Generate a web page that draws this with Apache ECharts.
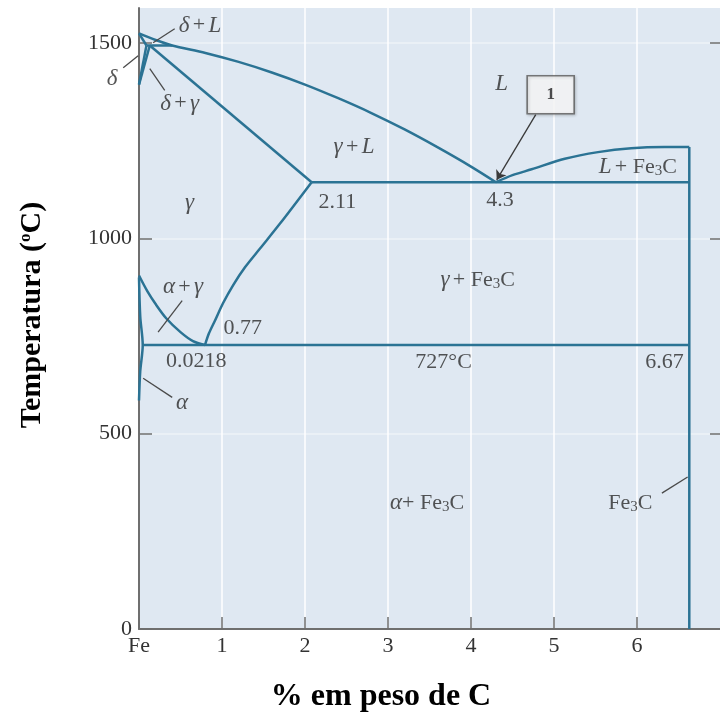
<!DOCTYPE html>
<html>
<head>
<meta charset="utf-8">
<script src="https://cdn.jsdelivr.net/npm/echarts@6/dist/echarts.min.js"></script>
<style>
html,body{margin:0;padding:0;background:#fff;}
#chart{width:720px;height:717px;}
</style>
</head>
<body>
<div id="chart"></div>
<script>
// ---------- data (wt% C, temperature °C) ----------
const xTicks = ['Fe', '1', '2', '3', '4', '5', '6'];
const xTickValues = [0, 1, 2, 3, 4, 5, 6];
const yTicks = [0, 500, 1000, 1500];

const liquidus = [[0,1525],[0.2,1508],[0.4,1494],[0.8,1475],[1.2,1452],[1.6,1425],[2.0,1394],[2.4,1359],[2.8,1321],[3.2,1279],[3.6,1233],[4.0,1184],[4.3,1144]];
const deltaSolidus = [[0,1525],[0.09,1494]];
const peritectic = [[0.09,1494],[0.4,1494]];
const deltaSolvus = [[0.09,1494],[0,1394]];
const gammaDeltaLine = [[0.13,1494],[0,1394]];
const solidus = [[0.13,1494],[2.08,1144]];
const eutectic = [[2.08,1144],[6.63,1144]];
const liquidusFe3C = [[4.3,1144],[4.5,1162],[4.73,1177],[5.13,1204],[5.53,1221],[5.93,1231],[6.33,1234],[6.63,1234]];
const cementite = [[6.63,1234],[6.63,0]];
const acmLine = [[0.795,727],[0.843,757],[0.916,790],[1.012,834],[1.133,880],[1.277,926],[1.458,974],[1.699,1038],[2.08,1144]];
const a3Line = [[0,905],[0.1,865],[0.2,832],[0.33,795],[0.5,760],[0.65,737],[0.795,727]];
const alphaSolvus = [[0,900],[0.015,800],[0.045,727],[0.015,660],[0,585]];
const eutectoid = [[0.045,727],[6.63,727]];

// region / value labels: [x, T, rich text]
const regionLabels = [
  [0.735, 1545, '{i|δ} {n|+} {i|L}'],
  [-0.325, 1409, '{i|δ}'],
  [0.49, 1345, '{i|δ} {n|+} {i|γ}'],
  [4.37, 1396, '{i|L}'],
  [2.59, 1233, '{i|γ} {n|+} {i|L}'],
  [0.61, 1092, '{i|γ}'],
  [2.39, 1092, '{n|2.11}'],
  [4.35, 1097, '{n|4.3}'],
  [6.01, 1182, '{i|L} {n|+ Fe}{s|3}{n|C}'],
  [0.53, 875, '{i|α} {n|+} {i|γ}'],
  [1.25, 770, '{n|0.77}'],
  [0.69, 685, '{n|0.0218}'],
  [3.67, 683, '{n|727°C}'],
  [6.33, 683, '{n|6.67}'],
  [4.08, 893, '{i|γ} {n|+ Fe}{s|3}{n|C}'],
  [0.52, 578, '{i|α}'],
  [3.47, 322, '{i|α}{n|+ Fe}{s|3}{n|C}'],
  [5.92, 322, '{n|Fe}{s|3}{n|C}']
];

const leaderLines = [
  [[0.17,1501],[0.43,1537]],
  [[-0.19,1437],[-0.01,1468]],
  [[0.13,1435],[0.31,1379]],
  [[0.52,841],[0.23,760]],
  [[0.05,642],[0.40,593]],
  [[6.30,348],[6.61,389]]
];

const calloutBox = [4.96, 1368, '1'];
const calloutArrow = [[4.78,1317],[4.31,1150]];

// ---------- chart ----------
const SERIF = '"Liberation Serif","DejaVu Serif",serif';
const LINE_COLOR = '#2b7394';

const boundaries = [liquidus, deltaSolidus, peritectic, deltaSolvus, gammaDeltaLine, solidus,
  eutectic, liquidusFe3C, cementite, acmLine, a3Line, alphaSolvus, eutectoid];

const smoothSet = new Set([liquidus, liquidusFe3C, acmLine, a3Line, alphaSolvus]);

const series = boundaries.map(d => ({
  type: 'line',
  data: d,
  symbol: 'none',
  smooth: smoothSet.has(d) ? 0.3 : false,
  clip: false,
  silent: true,
  lineStyle: { color: LINE_COLOR, width: 2.5 },
  z: 3
}));

series.push({
  type: 'lines',
  coordinateSystem: 'cartesian2d',
  clip: false,
  silent: true,
  symbol: 'none',
  lineStyle: { color: '#4a4a4a', width: 1.3, opacity: 1 },
  data: leaderLines.map(c => ({ coords: c })),
  z: 4
});

series.push({
  type: 'lines',
  coordinateSystem: 'cartesian2d',
  clip: false,
  silent: true,
  symbol: ['none', 'arrow'],
  symbolSize: 9,
  lineStyle: { color: '#3a3a3a', width: 1.3, opacity: 1 },
  data: [{ coords: calloutArrow }],
  z: 4
});

series.push({
  type: 'scatter',
  clip: false,
  silent: true,
  data: [[calloutBox[0], calloutBox[1]]],
  symbol: 'rect',
  symbolSize: [47, 38],
  itemStyle: { color: '#ffffff', borderColor: '#5a5a5a', borderWidth: 1.5,
    shadowColor: 'rgba(0,0,0,0.25)', shadowBlur: 3, shadowOffsetX: 1, shadowOffsetY: 1 },
  label: {
    show: true, position: 'inside', formatter: calloutBox[2],
    fontFamily: SERIF, fontWeight: 'bold', fontSize: 17, color: '#222'
  },
  z: 5
});

const rich = {
  i: { fontFamily: SERIF, fontStyle: 'italic', fontSize: 23, color: '#2a2a2a', lineHeight: 22 },
  n: { fontFamily: SERIF, fontSize: 22, color: '#2a2a2a', lineHeight: 22 },
  s: { fontFamily: SERIF, fontSize: 15, color: '#2a2a2a', verticalAlign: 'bottom', lineHeight: 14 }
};

series.push({
  type: 'scatter',
  clip: false,
  silent: true,
  symbolSize: 0,
  data: regionLabels.map(r => ({
    value: [r[0], r[1]],
    label: { formatter: r[2] }
  })),
  label: { show: true, position: 'inside', rich: rich },
  z: 6
});

const chart = echarts.init(document.getElementById('chart'), null, { renderer: 'canvas' });
chart.setOption({
  animation: false,
  backgroundColor: '#ffffff',
  grid: {
    left: 139, right: 0, top: 8, bottom: 88,
    show: true, backgroundColor: '#dfe8f2', borderWidth: 0
  },
  xAxis: {
    type: 'value', min: 0, max: 7, interval: 1,
    axisLine: { show: true, lineStyle: { color: '#6f6f6f', width: 2 } },
    axisTick: { show: true, inside: true, length: 12, customValues: xTickValues, lineStyle: { color: '#6f6f6f', width: 1.5 } },
    axisLabel: {
      fontFamily: SERIF, fontSize: 22, color: '#333', margin: 6,
      customValues: xTickValues,
      formatter: v => (v < xTicks.length ? xTicks[v] : '')
    },
    splitLine: { show: true, lineStyle: { color: 'rgba(255,255,255,0.75)', width: 2 } }
  },
  yAxis: [{
    type: 'value', min: 0, max: 1590, interval: 500,
    axisLine: { show: true, lineStyle: { color: '#6f6f6f', width: 2 } },
    axisTick: { show: true, inside: true, length: 13, customValues: yTicks, lineStyle: { color: '#6f6f6f', width: 1.5 } },
    axisLabel: {
      fontFamily: SERIF, fontSize: 22, color: '#333', margin: 7,
      customValues: yTicks,
      formatter: v => (yTicks.indexOf(v) >= 0 ? String(v) : '')
    },
    splitLine: { show: true, lineStyle: { color: 'rgba(255,255,255,0.45)', width: 1.5 } }
  }, {
    type: 'value', min: 0, max: 1590, interval: 500, position: 'right',
    axisLine: { show: false },
    axisTick: { show: true, inside: true, length: 10, customValues: [500, 1000, 1500], lineStyle: { color: '#6f6f6f', width: 1.5 } },
    axisLabel: { show: false },
    splitLine: { show: false }
  }],
  graphic: [
    {
      type: 'text', x: 32, y: 315, rotation: Math.PI / 2,
      style: {
        text: '{b|Temperatura (}{sup|o}{b|C)}',
        align: 'center', verticalAlign: 'middle',
        rich: {
          b: { fontFamily: SERIF, fontWeight: 'bold', fontSize: 30, fill: '#000', lineHeight: 30 },
          sup: { fontFamily: SERIF, fontWeight: 'bold', fontSize: 17, fill: '#000', verticalAlign: 'top', lineHeight: 30 }
        }
      }
    },
    {
      type: 'text', x: 381, y: 697,
      style: {
        text: '% em peso de C',
        align: 'center', verticalAlign: 'middle',
        font: 'bold 32px ' + SERIF, fill: '#000'
      }
    }
  ],
  series: series
});
</script>
</body>
</html>
